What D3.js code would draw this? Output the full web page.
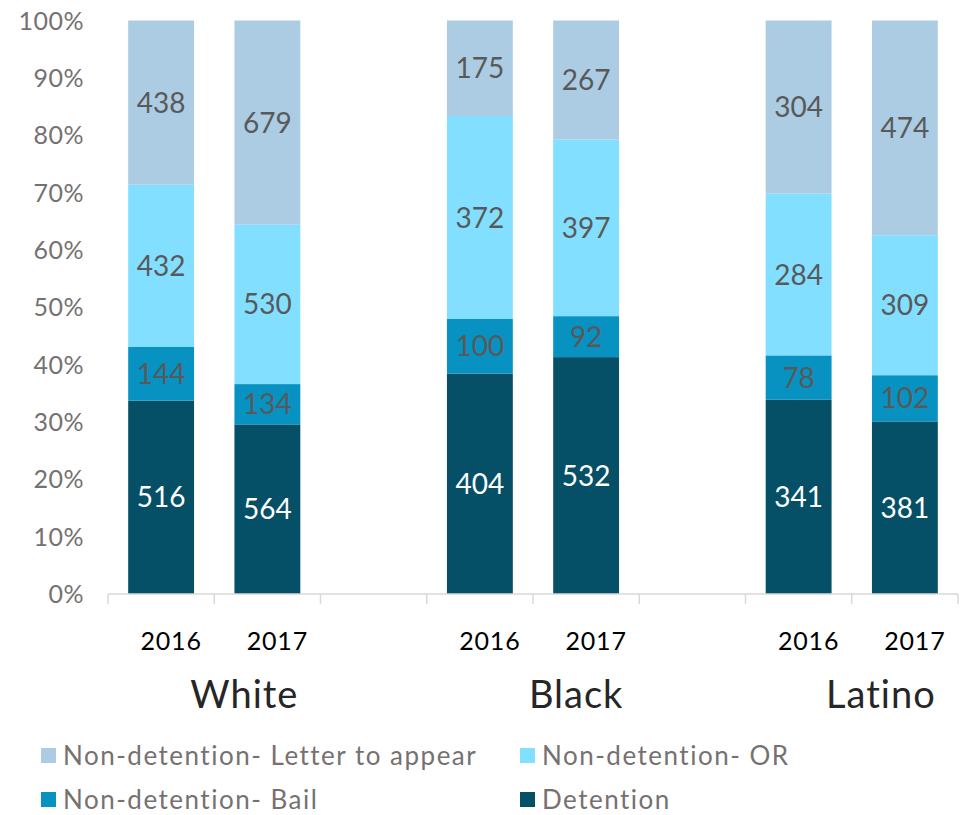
<!DOCTYPE html>
<html><head><meta charset="utf-8">
<script src="https://cdn.jsdelivr.net/npm/d3@7"></script>
<style>body{margin:0;background:#fff}svg{display:block}</style>
</head><body>
<script>
const groups = ["White", "Black", "Latino"];
const years = ["2016", "2017"];
const seriesNames = ["Detention", "Non-detention- Bail", "Non-detention- OR", "Non-detention- Letter to appear"];
const detention = [516, 564, 404, 532, 341, 381];
const bail = [144, 134, 100, 92, 78, 102];
const orRelease = [432, 530, 372, 397, 284, 309];
const letter = [438, 679, 175, 267, 304, 474];
const yTicks = [0, 10, 20, 30, 40, 50, 60, 70, 80, 90, 100];
const colors = ["#054F67", "#0892C2", "#83DFFF", "#ABCCE3"];
const labelColors = ["#ffffff", "#595959", "#595959", "#595959"];
const legendOrder = [3, 2, 1, 0];

const W = 965, H = 815;
const svg = d3.select("body").append("svg").attr("width", W).attr("height", H);
const FONT = "Lato, 'Open Sans', sans-serif";

// slots: each group has its years followed by a gap slot (except last)
const slots = [];
groups.forEach((g, gi) => {
  years.forEach(y => slots.push({g, y, gi}));
  if (gi < groups.length - 1) slots.push({g: g + "_gap", y: null, gi});
});
const slotKeys = slots.map((s, i) => "s" + i);
const x = d3.scaleBand().domain(slotKeys).range([108, 958]).padding(0);
const y = d3.scaleLinear().domain([0, 100]).range([594, 20.5]);

const seriesVals = [detention, bail, orRelease, letter];
const bars = [];
let di = 0;
slots.forEach((s, i) => {
  if (!s.y) return;
  const vals = seriesVals.map(a => a[di]);
  const tot = d3.sum(vals);
  let acc = 0;
  vals.forEach((v, k) => {
    const p0 = acc / tot * 100; acc += v; const p1 = acc / tot * 100;
    bars.push({slot: "s" + i, k, v, p0, p1});
  });
  di++;
});

const barW = x.bandwidth() * 0.62;
const gBars = svg.append("g");
gBars.selectAll("rect").data(bars).join("rect")
  .attr("x", d => x(d.slot) + (x.bandwidth() - barW) / 2)
  .attr("width", barW)
  .attr("y", d => y(d.p1))
  .attr("height", d => y(d.p0) - y(d.p1))
  .attr("fill", d => colors[d.k]);

gBars.selectAll("text").data(bars).join("text")
  .attr("x", d => x(d.slot) + x.bandwidth() / 2)
  .attr("y", d => (y(d.p0) + y(d.p1)) / 2)
  .attr("dy", "0.36em")
  .attr("text-anchor", "middle")
  .attr("font-family", FONT).attr("font-size", 28)
  .attr("fill", d => labelColors[d.k])
  .text(d => d.v);

// y axis labels
svg.append("g").selectAll("text").data(yTicks).join("text")
  .attr("x", 84).attr("y", d => y(d)).attr("dy", "0.36em")
  .attr("text-anchor", "end")
  .attr("font-family", FONT).attr("font-size", 25)
  .attr("letter-spacing", 0.5)
  .attr("fill", "#767171")
  .text(d => d + "%");

// x axis line + ticks
const ax = svg.append("g").attr("stroke", "#D9D9D9").attr("stroke-width", 1.5);
ax.append("line").attr("x1", 108).attr("x2", 958).attr("y1", y(0)).attr("y2", y(0));
const bounds = slotKeys.map(k => x(k)).concat([x(slotKeys[slotKeys.length - 1]) + x.bandwidth()]);
ax.selectAll("line.t").data(bounds).join("line").attr("class", "t")
  .attr("x1", d => d).attr("x2", d => d).attr("y1", y(0)).attr("y2", y(0) + 10);

// year labels
svg.append("g").selectAll("text").data(slots.map((s, i) => ({s, i})).filter(d => d.s.y)).join("text")
  .attr("x", d => x("s" + d.i) + x.bandwidth() / 2 + 10)
  .attr("y", 650)
  .attr("text-anchor", "middle")
  .attr("font-family", FONT).attr("font-size", 25)
  .attr("letter-spacing", 0.8)
  .attr("fill", "#000")
  .text(d => d.s.y);

// group labels (anchored near the last year of each group)
const groupShift = [-23, -10, -24];
svg.append("g").selectAll("text").data(groups).join("text")
  .attr("x", (g, gi) => {
    const idx = slots.findIndex(s => s.g === g && s.y === years[years.length - 1]);
    return x("s" + idx) + x.bandwidth() / 2 + groupShift[gi];
  })
  .attr("y", 708)
  .attr("text-anchor", "middle")
  .attr("font-family", FONT).attr("font-size", 38)
  .attr("letter-spacing", 1)
  .attr("fill", "#262626")
  .text(d => d);

// legend
const leg = svg.append("g");
const legItems = legendOrder.map((k, i) => ({k, col: i % 2, row: Math.floor(i / 2)}));
const lg = leg.selectAll("g").data(legItems).join("g")
  .attr("transform", d => `translate(${[41, 520][d.col]},${[756, 800][d.row]})`);
lg.append("rect").attr("x", 0).attr("y", -8).attr("width", 15).attr("height", 15)
  .attr("fill", d => colors[d.k]);
lg.append("text").attr("x", 22).attr("y", 0).attr("dy", "0.36em")
  .attr("font-family", FONT)
  .attr("font-size", 26)
  .attr("letter-spacing", 1.5)
  .attr("fill", "#767171")
  .text(d => seriesNames[d.k]);
</script>
</body></html>
